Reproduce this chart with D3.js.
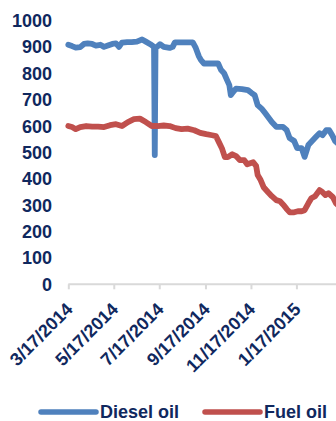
<!DOCTYPE html>
<html>
<head>
<meta charset="utf-8">
<script src="https://cdn.jsdelivr.net/npm/d3@7"></script>
<style>
  html, body { margin: 0; padding: 0; background: #fff; }
  svg { display: block; }
  text { font-family: "Liberation Sans", Arial, sans-serif; font-weight: bold; fill: #10285E; }
</style>
</head>
<body>
<svg id="chart" width="336" height="421"></svg>
<script>
// Diesel oil price series
const dieselDates = [
  "2014-03-17","2014-03-22","2014-03-27","2014-04-02","2014-04-07","2014-04-12","2014-04-18","2014-04-23",
  "2014-04-29","2014-05-04","2014-05-09","2014-05-15","2014-05-20","2014-05-24","2014-05-28","2014-06-04",
  "2014-06-10","2014-06-17","2014-06-24","2014-06-29","2014-07-05","2014-07-10","2014-07-11","2014-07-12",
  "2014-07-14","2014-07-18","2014-07-23","2014-07-31","2014-08-04","2014-08-07","2014-08-21","2014-08-31",
  "2014-09-04","2014-09-08","2014-09-11","2014-09-15","2014-09-26","2014-10-04","2014-10-08","2014-10-12",
  "2014-10-16","2014-10-19","2014-10-21","2014-10-24","2014-10-28","2014-11-05","2014-11-13","2014-11-18",
  "2014-11-22","2014-11-26","2014-12-02","2014-12-06","2014-12-10","2014-12-15","2014-12-21","2014-12-30",
  "2015-01-04","2015-01-08","2015-01-14","2015-01-18","2015-01-24","2015-01-28","2015-02-02","2015-02-07",
  "2015-02-12","2015-02-17","2015-02-21","2015-02-26","2015-03-02","2015-03-06","2015-03-10","2015-03-13"
];
const dieselValues = [
  908, 903, 897, 899, 911, 913, 911, 905,
  908, 900, 905, 911, 913, 900, 916, 918,
  918, 920, 928, 920, 910, 900, 490, 898,
  900, 910, 900, 896, 900, 917, 917, 917,
  896, 865, 850, 837, 837, 837, 812, 800,
  774, 755, 717, 729, 742, 740, 736, 725,
  717, 679, 664, 649, 634, 615, 597, 597,
  584, 554, 543, 516, 516, 483, 528, 543,
  558, 573, 565, 584, 584, 565, 543, 535
];

// Fuel oil price series
const fuelDates = [
  "2014-03-17","2014-03-22","2014-03-27","2014-04-02","2014-04-10","2014-04-18","2014-04-26","2014-05-04",
  "2014-05-12","2014-05-20","2014-05-28","2014-06-05","2014-06-13","2014-06-21","2014-06-29","2014-07-07",
  "2014-07-15","2014-07-23","2014-07-31","2014-08-08","2014-08-16","2014-08-24","2014-09-02","2014-09-10",
  "2014-09-18","2014-09-26","2014-10-01","2014-10-05","2014-10-09","2014-10-13","2014-10-17","2014-10-23",
  "2014-10-28","2014-11-02","2014-11-08","2014-11-12","2014-11-16","2014-11-20","2014-11-24","2014-11-26",
  "2014-11-30","2014-12-04","2014-12-10","2014-12-15","2014-12-21","2014-12-26","2014-12-31","2015-01-04",
  "2015-01-08","2015-01-14","2015-01-19","2015-01-24","2015-01-28","2015-02-02","2015-02-06","2015-02-11",
  "2015-02-17","2015-02-21","2015-02-25","2015-03-01","2015-03-07","2015-03-11","2015-03-14"
];
const fuelValues = [
  600, 596, 588, 596, 600, 598, 598, 596,
  603, 607, 600, 615, 626, 628, 615, 600,
  600, 602, 600, 592, 588, 590, 584, 574,
  569, 565, 562, 539, 516, 482, 482, 493,
  486, 471, 471, 455, 459, 463, 448, 414,
  395, 368, 349, 334, 319, 315, 300, 285,
  273, 273, 277, 277, 281, 307, 326, 334,
  357, 349, 338, 345, 330, 307, 300
];

// Axis ticks
const xTickLabels = ["3/17/2014","5/17/2014","7/17/2014","9/17/2014","11/17/2014","1/17/2015"];
const yTicks = [0, 100, 200, 300, 400, 500, 600, 700, 800, 900, 1000];

const seriesNames = ["Diesel oil", "Fuel oil"];
const seriesColors = ["#4F81BD", "#C0504D"];

const parseDate = d3.timeParse("%Y-%m-%d");
const parseTick = d3.timeParse("%m/%d/%Y");

const series = [
  { name: seriesNames[0], color: seriesColors[0],
    points: dieselDates.map((d, i) => ({ date: parseDate(d), value: dieselValues[i] })) },
  { name: seriesNames[1], color: seriesColors[1],
    points: fuelDates.map((d, i) => ({ date: parseDate(d), value: fuelValues[i] })) }
];

const svg = d3.select("#chart");

const x = d3.scaleTime()
  .domain([parseDate("2014-03-17"), parseDate("2015-03-17")])
  .range([68.3, 340.4]);

const y = d3.scaleLinear()
  .domain([0, 1000])
  .range([284.3, 20.5]);

// Value labels on the left (no axis line)
svg.append("g")
  .selectAll("text")
  .data(yTicks)
  .join("text")
  .attr("x", 52)
  .attr("y", d => y(d))
  .attr("dy", "0.36em")
  .attr("text-anchor", "end")
  .style("font-size", "18px")
  .text(d => d);

// Date axis
const xAxis = d3.axisBottom(x)
  .tickValues(xTickLabels.map(parseTick))
  .tickSize(5)
  .tickFormat(d3.timeFormat("%-m/%-d/%Y"));

const gx = svg.append("g")
  .attr("transform", `translate(0,${y(0)})`)
  .call(xAxis);

gx.select(".domain")
  .attr("d", `M${x.range()[0]},0H${x.range()[1]}`)
  .attr("stroke", "#D9D9D9")
  .attr("stroke-width", 2);
gx.selectAll(".tick line")
  .attr("stroke", "#D9D9D9")
  .attr("stroke-width", 2);
gx.selectAll(".tick text")
  .attr("fill", null)
  .attr("y", null)
  .attr("dy", null)
  .attr("text-anchor", "end")
  .attr("transform", "translate(5,26) rotate(-45)")
  .style("font-size", "18px")
  .style("font-family", "'Liberation Sans', Arial, sans-serif")
  .style("font-weight", "bold");

// Price lines
const line = d3.line()
  .x(d => x(d.date))
  .y(d => y(d.value));

svg.append("g")
  .selectAll("path")
  .data(series)
  .join("path")
  .attr("d", d => line(d.points))
  .attr("fill", "none")
  .attr("stroke", d => d.color)
  .attr("stroke-width", 5.8)
  .attr("stroke-linejoin", "round")
  .attr("stroke-linecap", "round");

// Legend
const legendItems = [
  { name: seriesNames[0], color: seriesColors[0], x0: 41 },
  { name: seriesNames[1], color: seriesColors[1], x0: 205 }
];
const lg = svg.append("g").selectAll("g")
  .data(legendItems)
  .join("g")
  .attr("transform", d => `translate(${d.x0},412)`);
lg.append("line")
  .attr("x1", 0).attr("x2", 55)
  .attr("stroke", d => d.color)
  .attr("stroke-width", 5.5)
  .attr("stroke-linecap", "round");
lg.append("text")
  .attr("x", 59)
  .attr("y", 5.5)
  .style("font-size", "18px")
  .text(d => d.name);
</script>
</body>
</html>
